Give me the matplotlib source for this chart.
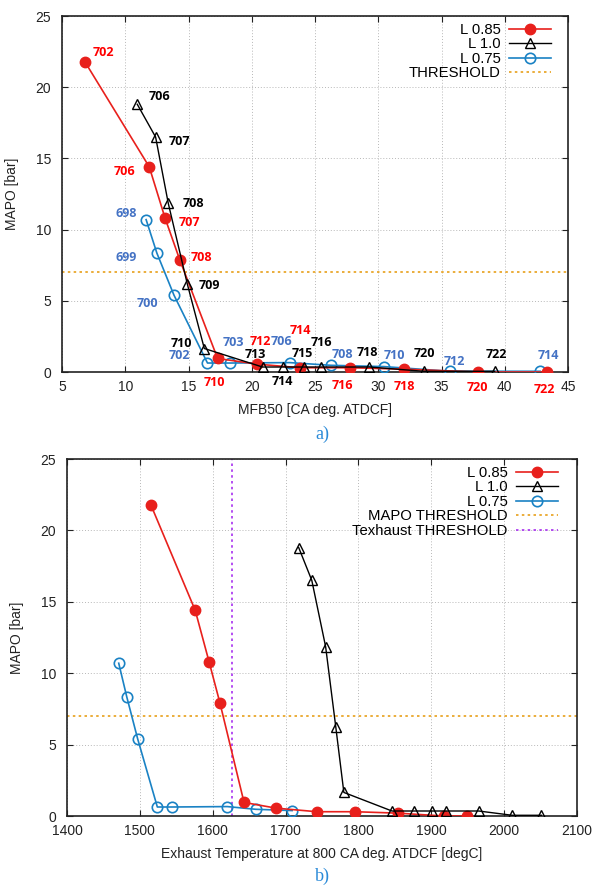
import matplotlib
matplotlib.use("Agg")
import matplotlib.pyplot as plt

# ---------------- data ----------------
# L 0.85 (red)
red_ids = ["702", "706", "707", "708", "710", "712", "714", "716", "718", "720", "722"]
red_mfb50 = [6.8, 11.9, 13.15, 14.3, 17.3, 20.45, 23.8, 27.8, 32.0, 37.9, 43.35]
red_mapo = [21.8, 14.4, 10.8, 7.9, 0.95, 0.55, 0.3, 0.3, 0.2, 0.0, 0.0]
red_texh = [1515, 1576, 1595, 1610, 1643, 1687, 1743, 1795, 1854, 1917, 1949]

# L 1.0 (black)
blk_ids = ["706", "707", "708", "709", "710", "713", "714", "715", "716", "718", "720", "722"]
blk_mfb50 = [10.95, 12.4, 13.4, 14.9, 16.25, 20.85, 22.45, 24.1, 25.5, 29.3, 33.6, 39.2]
blk_mapo = [18.8, 16.5, 11.85, 6.2, 1.65, 0.35, 0.35, 0.35, 0.35, 0.35, 0.05, 0.05]
blk_texh = [1718, 1736, 1755, 1769, 1780, 1846, 1876, 1901, 1920, 1965, 2011, 2051]

# L 0.75 (blue)
blu_ids = ["698", "699", "700", "702", "703", "706", "708", "710", "712", "714"]
blu_mfb50 = [11.65, 12.5, 13.85, 16.5, 18.25, 23.0, 26.25, 30.45, 35.65, 42.8]
blu_mapo = [10.7, 8.35, 5.4, 0.63, 0.63, 0.66, 0.47, 0.38, 0.05, 0.05]
blu_texh = [1471, 1482, 1497, 1524, 1544, 1620, 1659, 1709]   # first 8 points only

mapo_threshold = 7.0
texh_threshold = 1626

# label offsets in pixels (dx, dy up-positive) for the top chart annotations
red_off = [(19, 9), (-25, -5), (24, -4), (22, 2), (-3, -24), (3, 23), (1, 37), (-8, -18), (1, -17), (-1, -15), (-3, -17)]
blk_off = [(22, 8), (24, -4), (25, 0), (22, -2), (-23, 5), (-7, 13), (0, -14), (-1, 14), (0, 25), (-2, 15), (1, 18), (2, 17)]
blu_off = [(-20, 6), (-31, -4), (-27, -8), (-28, 8), (4, 21), (-8, 21), (12, 11), (10, 11), (5, 10), (8, 16)]

# ---------------- styles ----------------
C_RED = "#e8201c"
C_BLK = "#000000"
C_BLU = "#1a82c4"
C_THR = "#e8a01a"
C_TEX = "#a830f0"
LBL_RED = "#ff0000"
LBL_BLU = "#4472c4"

plt.rcParams["font.family"] = ["Liberation Sans", "DejaVu Sans"]
fig = plt.figure(figsize=(5.92, 8.88), dpi=100)

W, H = 592.0, 888.0
ax1 = fig.add_axes([62 / W, (H - 372) / H, (568 - 62) / W, (372 - 16) / H])
ax2 = fig.add_axes([67 / W, (H - 816) / H, (577 - 67) / W, (816 - 459) / H])


def style_axes(ax):
    ax.grid(True, linestyle=(0, (1, 2)), color="#b8b8b8", linewidth=0.7)
    ax.set_axisbelow(True)
    for s in ax.spines.values():
        s.set_linewidth(1.2)
        s.set_color("#222222")
    ax.tick_params(direction="in", top=True, right=True, length=4, width=0.8,
                   labelsize=10, colors="#222222", labelcolor="#222222")
    ax.tick_params(axis="x", pad=6)
    ax.tick_params(axis="y", pad=8)


def plot_series(ax, xr, xb, xu, rm, bm, um):
    ax.plot(xr, rm, color=C_RED, lw=1.2, marker="o", ms=7.5, mfc=C_RED, mec=C_RED,
            label="L 0.85", zorder=4)
    ax.plot(xb, bm, color=C_BLK, lw=1.0, marker="^", ms=7.5, mfc="none", mec=C_BLK,
            mew=1.0, label="L 1.0", zorder=5)
    ax.plot(xu, um, color=C_BLU, lw=1.2, marker="o", ms=7.5, mfc="none", mec=C_BLU,
            mew=1.2, label="L 0.75", zorder=3)


leg_kw = dict(loc="upper right", frameon=False, markerfirst=False, fontsize=10.7,
              labelspacing=0.03, handlelength=2.8, handletextpad=0.6,
              borderpad=0, borderaxespad=0)

# ---------------- top chart ----------------
style_axes(ax1)
plot_series(ax1, red_mfb50, blk_mfb50, blu_mfb50, red_mapo, blk_mapo, blu_mapo)
ax1.axhline(mapo_threshold, color=C_THR, lw=1.2, linestyle=(0, (1.5, 2)), label="THRESHOLD", zorder=2)
ax1.set_xlim(5, 45)
ax1.set_ylim(0, 25)
ax1.set_xticks(range(5, 46, 5))
ax1.set_yticks(range(0, 26, 5))
ax1.set_xlabel("MFB50 [CA deg. ATDCF]", fontsize=10, color="#222222", labelpad=6)
ax1.set_ylabel("MAPO [bar]", fontsize=10, color="#222222", labelpad=12)

lab_font = dict(family=["Open Sans", "DejaVu Sans"], weight="bold", fontsize=9,
                ha="center", va="center", zorder=6, clip_on=False)
for ids, xs, ys, offs, col in [(red_ids, red_mfb50, red_mapo, red_off, LBL_RED),
                               (blk_ids, blk_mfb50, blk_mapo, blk_off, "#000000"),
                               (blu_ids, blu_mfb50, blu_mapo, blu_off, LBL_BLU)]:
    for t, x, y, o in zip(ids, xs, ys, offs):
        ax1.annotate(t, (x, y), xytext=o, textcoords="offset pixels", color=col, **lab_font)

ax1.legend(bbox_to_anchor=(1 - 17 / 506, 1 - 7 / 356), **leg_kw)

# ---------------- bottom chart ----------------
style_axes(ax2)
plot_series(ax2, red_texh, blk_texh, blu_texh, red_mapo, blk_mapo, blu_mapo[:len(blu_texh)])
ax2.axhline(mapo_threshold, color=C_THR, lw=1.2, linestyle=(0, (1.5, 2)), label="MAPO THRESHOLD", zorder=2)
ax2.axvline(texh_threshold, color=C_TEX, lw=1.2, linestyle=(0, (1.5, 2)), label="Texhaust THRESHOLD", zorder=2)
ax2.set_xlim(1400, 2100)
ax2.set_ylim(0, 25)
ax2.set_xticks(range(1400, 2101, 100))
ax2.set_yticks(range(0, 26, 5))
ax2.set_xlabel("Exhaust Temperature at 800 CA deg. ATDCF [degC]", fontsize=10, color="#222222", labelpad=6)
ax2.set_ylabel("MAPO [bar]", fontsize=10, color="#222222", labelpad=12)
ax2.legend(bbox_to_anchor=(1 - 19 / 510, 1 - 7 / 357), **leg_kw)

# ---------------- captions ----------------
cap = dict(family=["Liberation Serif", "DejaVu Serif"], fontsize=13, color="#2a8ad8",
           ha="center", va="center")
fig.text(322 / W, 1 - 434 / H, "a)", **cap)
fig.text(322 / W, 1 - 876 / H, "b)", **cap)

fig.savefig("out.png", dpi=100)
